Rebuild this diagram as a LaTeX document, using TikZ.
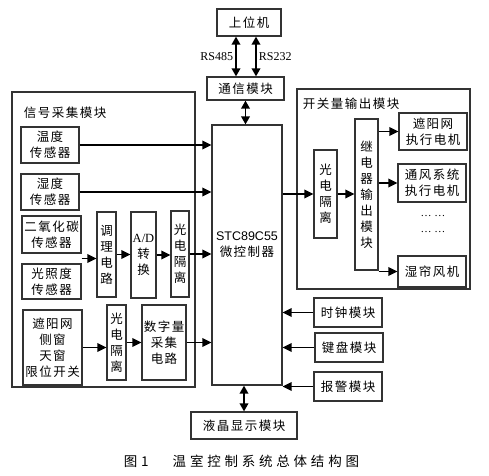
\documentclass[tikz,border=0pt]{standalone}
\usepackage{fontspec}
\setmainfont{Noto Sans CJK SC}[LetterSpace=12]
\newfontfamily\capfont{Noto Sans CJK SC}[LetterSpace=28]
\newfontfamily\latinserif{Liberation Serif}
\newfontfamily\latinsans{Liberation Sans}
\usetikzlibrary{arrows.meta,calc}

\begin{document}
\begin{tikzpicture}[x=1pt,y=-1pt,
  blk/.style={draw=black!80,line width=1.2pt,inner sep=0pt,align=center,
    font=\fontsize{12.5}{16}\selectfont},
  grp/.style={draw=black!80,line width=1.2pt,inner sep=0pt},
  arr/.style={line width=1.8pt,-{Triangle[length=9pt,width=8.5pt]}},
  dbl/.style={line width=1.8pt,{Triangle[length=8pt,width=8.5pt]}-{Triangle[length=8pt,width=8.5pt]}}]
  \useasboundingbox (0,0) rectangle (489,475);

  % group frames
  \node[grp,minimum width=183pt,minimum height=295pt] (sigbox) at (103.5,239.5) {};
  \node[grp,minimum width=173pt,minimum height=200pt] (outbox) at (383.5,189) {};
  \node[anchor=west,font=\fontsize{12.5}{16}\selectfont] (sigtitle)
    at ([xshift=9pt,yshift=-21pt]sigbox.north west) {信号采集模块};
  \node[anchor=west,font=\fontsize{12.5}{16}\selectfont] (outtitle)
    at ([xshift=3pt,yshift=-15pt]outbox.north west) {开关量输出模块};

  % top
  \node[blk,minimum width=64pt,minimum height=27pt] (host) at (249,22.5) {上位机};
  \node[blk,minimum width=77pt,minimum height=23pt] (comm) at (245.5,88.5) {通信模块};

  % controller
  \node[blk,minimum width=70pt,minimum height=260pt] (mcu) at (247,255) {};
  \node[align=center,font=\fontsize{12.5}{16}\selectfont] (mcutxt)
    at ([yshift=10pt]mcu.center) {{\latinsans STC89C55}\\微控制器};

  % sensors
  \node[blk,minimum width=58pt,minimum height=36pt] (temp) at (50,145) {温度\\传感器};
  \node[blk,minimum width=58pt,minimum height=36pt] (hum) at (50,192) {湿度\\传感器};
  \node[blk,minimum width=59pt,minimum height=37pt] (co2) at (51.5,234.5) {二氧化碳\\传感器};
  \node[blk,minimum width=59pt,minimum height=35pt] (light) at (51.5,281.5) {光照度\\传感器};
  \node[blk,minimum width=19pt,minimum height=85pt] (cond) at (106.5,254.5) {调\\理\\电\\路};
  \node[blk,minimum width=25pt,minimum height=86pt] (adc) at (143.5,255) {{\latinserif A/D}\\转\\换};
  \node[blk,minimum width=18pt,minimum height=86pt] (iso1) at (180,254) {光\\电\\隔\\离};
  \node[blk,minimum width=59pt,minimum height=75pt] (limit) at (52.5,347.5) {遮阳网\\侧窗\\天窗\\限位开关};
  \node[blk,minimum width=19pt,minimum height=75pt] (iso2) at (116.5,342.5) {光\\电\\隔\\离};
  \node[blk,minimum width=44pt,minimum height=75pt] (dig) at (164,342.5) {数字量\\采集\\电路};

  % outputs
  \node[blk,minimum width=23pt,minimum height=88pt] (iso3) at (325.5,194) {光\\电\\隔\\离};
  \node[blk,minimum width=23pt,minimum height=151pt] (relay) at (366.5,194.5) {继\\电\\器\\输\\出\\模\\块};
  \node[blk,minimum width=68pt,minimum height=37pt] (shade) at (433,131.5) {遮阳网\\执行电机};
  \node[blk,minimum width=68pt,minimum height=38pt] (vent) at (432,183) {通风系统\\执行电机};
  \node[font=\latinserif\fontsize{11}{12}\selectfont] (dots1) at (433,216) {\dots\ \dots};
  \node[font=\latinserif\fontsize{11}{12}\selectfont] (dots2) at (433,232) {\dots\ \dots};
  \node[blk,minimum width=68pt,minimum height=31pt] (pad) at (432,271.5) {湿帘风机};

  % other modules
  \node[blk,minimum width=68pt,minimum height=29pt] (clock) at (348,312.5) {时钟模块};
  \node[blk,minimum width=68pt,minimum height=29pt] (keys) at (349,347.5) {键盘模块};
  \node[blk,minimum width=68pt,minimum height=29pt] (alarm) at (348,386.5) {报警模块};
  \node[blk,minimum width=106pt,minimum height=27pt] (lcd) at (244,425.5) {液晶显示模块};

  % links
  \draw[dbl] ([xshift=-13pt]host.south) -- ([xshift=-13pt]host.south |- comm.north)
    node[midway,left,inner sep=2pt,font=\latinserif\fontsize{12}{14}\selectfont] {RS485};
  \draw[dbl] ([xshift=7pt]host.south) -- ([xshift=7pt]host.south |- comm.north)
    node[midway,right,inner sep=2pt,font=\latinserif\fontsize{12}{14}\selectfont] {RS232};
  \draw[dbl] (comm.south) -- (comm.south |- mcu.north);
  \draw[dbl] (lcd.north |- mcu.south) -- (lcd.north);

  \draw[arr] (temp.east) -- (temp.east -| mcu.west);
  \draw[arr] (hum.east) -- (hum.east -| mcu.west);
  \coordinate (cl) at ($(co2.south east)!0.5!(light.north east)$);
  \draw[arr] (cl) -- (cl -| cond.west);
  \draw[arr] (cond.east) -- (cond.east -| adc.west);
  \draw[arr] (adc.east) -- (adc.east -| iso1.west);
  \draw[arr] (iso1.east) -- (iso1.east -| mcu.west);
  \draw[arr] (limit.east) -- (limit.east -| iso2.west);
  \draw[arr] (iso2.east) -- (iso2.east -| dig.west);
  \draw[arr] (dig.east) -- (dig.east -| mcu.west);

  \draw[arr] (mcu.east |- iso3.west) -- (iso3.west);
  \draw[arr] (iso3.east) -- (iso3.east -| relay.west);
  \draw[arr] (relay.east |- shade.west) -- (shade.west);
  \draw[arr] (relay.east |- vent.west) -- (vent.west);
  \draw[arr] (relay.east |- pad.west) -- (pad.west);

  \draw[arr] (clock.west) -- (clock.west -| mcu.east);
  \draw[arr] (keys.west) -- (keys.west -| mcu.east);
  \draw[arr] (alarm.west) -- (alarm.west -| mcu.east);

  \node[font=\capfont\fontsize{13.5}{16}\selectfont] (caption) at (241.5,461) {图\;1\quad\; 温室控制系统总体结构图};
\end{tikzpicture}
\end{document}
